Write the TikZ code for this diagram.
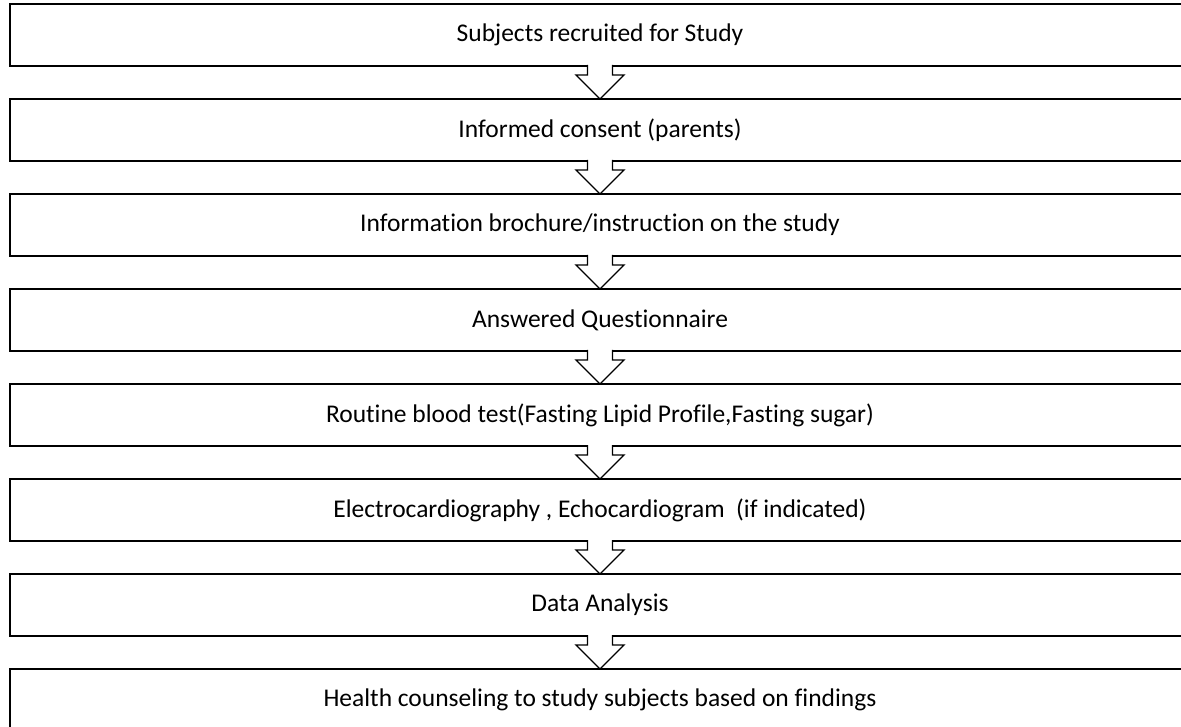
\documentclass[tikz,border=0pt]{standalone}
\usepackage{fontspec}
\setmainfont{Carlito}[Ligatures=NoCommon]
\usetikzlibrary{positioning}
\tikzset{
  stepbox/.style={draw, line width=1.8pt, fill=white, outer sep=0pt,
                  minimum width=1180pt, minimum height=62pt, inner sep=0pt,
                  font=\fontsize{25.5}{30}\selectfont},
  blockarrow/.style={draw, line width=1.4pt, fill=white, line join=miter},
}

\begin{document}
\begin{tikzpicture}[x=1pt, y=-1pt]
\useasboundingbox (0,0) rectangle (1181,727);

% Study steps
\node[stepbox] (recruit) at (600,35) {Subjects recruited for Study};
\node[stepbox, below=33pt of recruit] (consent) {Informed consent (parents)};
\node[stepbox, below=33pt of consent] (brochure) {Information brochure/instruction on the study};
\node[stepbox, below=33pt of brochure] (questions) {Answered Questionnaire};
\node[stepbox, below=33pt of questions] (blood) {Routine blood test(Fasting Lipid Profile,Fasting sugar)};
\node[stepbox, below=33pt of blood] (ecg) {Electrocardiography , Echocardiogram~\ (if indicated)};
\node[stepbox, below=33pt of ecg] (analysis) {Data Analysis};
\node[stepbox, below=33pt of analysis] (counsel) {Health counseling to study subjects based on findings};

% Block arrows between steps
\draw[blockarrow] ([xshift=-12.5pt,yshift=1pt]recruit.south) -- ++(0,10) -- ++(-11.5,0) -- (consent.north) -- ++(24,-24) -- ++(-11.5,0) -- ++(0,-10);
\draw[blockarrow] ([xshift=-12.5pt,yshift=1pt]consent.south) -- ++(0,10) -- ++(-11.5,0) -- (brochure.north) -- ++(24,-24) -- ++(-11.5,0) -- ++(0,-10);
\draw[blockarrow] ([xshift=-12.5pt,yshift=1pt]brochure.south) -- ++(0,10) -- ++(-11.5,0) -- (questions.north) -- ++(24,-24) -- ++(-11.5,0) -- ++(0,-10);
\draw[blockarrow] ([xshift=-12.5pt,yshift=1pt]questions.south) -- ++(0,10) -- ++(-11.5,0) -- (blood.north) -- ++(24,-24) -- ++(-11.5,0) -- ++(0,-10);
\draw[blockarrow] ([xshift=-12.5pt,yshift=1pt]blood.south) -- ++(0,10) -- ++(-11.5,0) -- (ecg.north) -- ++(24,-24) -- ++(-11.5,0) -- ++(0,-10);
\draw[blockarrow] ([xshift=-12.5pt,yshift=1pt]ecg.south) -- ++(0,10) -- ++(-11.5,0) -- (analysis.north) -- ++(24,-24) -- ++(-11.5,0) -- ++(0,-10);
\draw[blockarrow] ([xshift=-12.5pt,yshift=1pt]analysis.south) -- ++(0,10) -- ++(-11.5,0) -- (counsel.north) -- ++(24,-24) -- ++(-11.5,0) -- ++(0,-10);

\end{tikzpicture}
\end{document}
